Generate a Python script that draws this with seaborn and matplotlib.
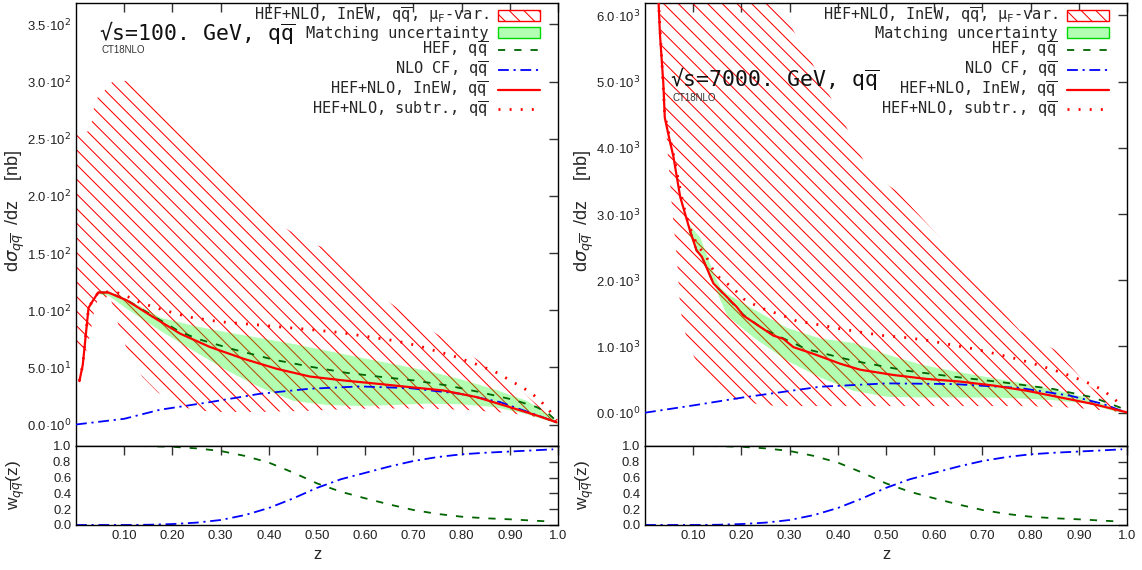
import matplotlib
matplotlib.use("Agg")
import matplotlib.pyplot as plt
import seaborn as sns
from matplotlib.patches import Patch
from matplotlib.lines import Line2D
from matplotlib.font_manager import FontProperties

# ---------------- data: sqrt(s) = 100 GeV ----------------
z_inew_100 = [0.007, 0.014, 0.026, 0.033, 0.046, 0.067, 0.105, 0.16, 0.216, 0.278, 0.347,
              0.416, 0.485, 0.554, 0.624, 0.693, 0.762, 0.831, 0.90, 0.956, 0.997]
inew_100 = [38, 52, 102, 107, 115.5, 115.5, 108.7, 94, 79.5, 67.8, 57.6,
            48.8, 42, 38.6, 35.7, 32.7, 29.8, 24, 15.2, 7.9, 2]

z_hef_100 = [0.046, 0.067, 0.105, 0.16, 0.216, 0.257, 0.326, 0.41, 0.49, 0.56, 0.63,
             0.70, 0.77, 0.838, 0.907, 0.956, 0.98, 0.997]
hef_100 = [115.5, 115.5, 109, 95, 81, 74.3, 65.8, 56.7, 50.3, 45.3, 41.8,
           38.6, 34.2, 28.3, 21.7, 15.2, 9.6, 3]

z_nlo_100 = [0.0, 0.1, 0.174, 0.278, 0.382, 0.485, 0.589, 0.693, 0.797, 0.88, 0.948, 0.997]
nlo_100 = [0, 5, 12.9, 19.6, 26.9, 31.3, 33.3, 31.8, 26.9, 19.6, 9.4, 2]

z_subtr_100 = [0.007, 0.014, 0.026, 0.033, 0.046, 0.067, 0.088, 0.112, 0.133, 0.154, 0.178,
               0.198, 0.223, 0.245, 0.269, 0.292, 0.316, 0.362, 0.41, 0.479, 0.549, 0.619,
               0.665, 0.712, 0.734, 0.779, 0.824, 0.868, 0.889, 0.909, 0.929, 0.949, 0.966,
               0.982, 0.997]
subtr_100 = [38, 52, 102, 107, 115.5, 116, 115, 111, 106.7, 103.8, 100.6,
             98.2, 95.3, 93.2, 91.8, 90.3, 89.2, 87.7, 85.9, 83.3, 80.4, 76,
             73, 68.7, 65.8, 60.5, 53.8, 46.5, 41.5, 36.6, 31.8, 26, 19.6,
             12.3, 3.5]

z_match_100 = [0.05, 0.067, 0.105, 0.174, 0.243, 0.313, 0.382, 0.451, 0.52, 0.589, 0.658,
               0.728, 0.797, 0.866, 0.935, 0.983, 1.0]
match_hi_100 = [116, 117, 110, 94, 86.8, 81, 76, 70.8, 64.9, 59, 53.2,
                47.4, 40, 31.3, 21, 7.9, 1]
match_lo_100 = [114, 113, 101.5, 82.4, 64.9, 47.4, 32.7, 21, 17.5, 16.7, 17.5,
                18.7, 18.1, 15.8, 9.4, 3, 0.5]

z_muf_100 = [0.0, 0.02, 0.03, 0.04, 0.05, 0.07, 0.08, 0.091, 0.112, 0.137, 0.17, 0.222,
             0.26, 0.299, 0.382, 0.485, 0.533, 0.616, 0.707, 0.803, 0.9, 0.963, 1.0]
muf_hi_100 = [254, 256, 257, 285, 287, 298, 301, 301, 300, 293, 278, 256,
              240, 223, 185, 159, 152, 117, 90, 65, 38, 15, 1]
muf_lo_100 = [62, 62, 80, 105, 110, 112, 100, 82, 59, 42, 28, 15,
              12, 11, 11, 12, 13, 14, 14, 13, 10, 6, 0.5]

# ---------------- data: sqrt(s) = 7000 GeV ----------------
z_inew_7000 = [0.025, 0.028, 0.031, 0.038, 0.041, 0.048, 0.059, 0.073, 0.079, 0.093, 0.107,
               0.118, 0.142, 0.19, 0.204, 0.266, 0.287, 0.308, 0.349, 0.405, 0.446, 0.515,
               0.584, 0.654, 0.723, 0.792, 0.861, 0.93, 1.0]
inew_7000 = [6800, 6230, 5720, 4975, 4460, 4220, 3865, 3260, 3110, 2758, 2450,
             2355, 1952, 1600, 1468, 1165, 1115, 990, 890, 740, 650, 570,
             510, 470, 410, 332, 232, 131, 5]

z_hef_7000 = [0.093, 0.107, 0.118, 0.142, 0.204, 0.245, 0.335, 0.432, 0.543, 0.64, 0.743,
              0.847, 0.93, 0.985, 1.0]
hef_7000 = [2758, 2450, 2355, 1952, 1480, 1265, 960, 785, 634, 544, 458,
            358, 231, 80, 10]

z_nlo_7000 = [0.0, 0.1, 0.204, 0.363, 0.501, 0.64, 0.778, 0.882, 0.951, 0.992]
nlo_7000 = [0, 110, 231, 392, 443, 433, 373, 257, 131, 20]

z_subtr_7000 = [0.025, 0.028, 0.041, 0.059, 0.079, 0.093, 0.107, 0.128, 0.138, 0.152, 0.17,
                0.188, 0.205, 0.226, 0.247, 0.269, 0.292, 0.315, 0.337, 0.36, 0.382, 0.405,
                0.451, 0.496, 0.544, 0.591, 0.638, 0.684, 0.73, 0.775, 0.82, 0.865, 0.887,
                0.91, 0.93, 0.951, 0.97, 0.989]
subtr_7000 = [6800, 6230, 4500, 3900, 3150, 2800, 2550, 2345, 2195, 2054, 1953,
              1842, 1717, 1636, 1566, 1510, 1450, 1384, 1359, 1329, 1299, 1268,
              1213, 1163, 1133, 1087, 1022, 962, 886, 806, 710, 604, 544,
              478, 418, 332, 231, 106]

z_match_7000 = [0.09, 0.114, 0.142, 0.156, 0.17, 0.225, 0.294, 0.363, 0.432, 0.501, 0.571,
                0.64, 0.709, 0.778, 0.847, 0.916, 0.972, 1.0]
match_hi_7000 = [2850, 2650, 2100, 1892, 1800, 1566, 1288, 1127, 1061, 886, 735,
                 634, 544, 458, 358, 231, 80, 5]
match_lo_7000 = [2700, 2350, 1952, 1700, 1468, 1140, 790, 538, 337, 247, 237,
                 237, 237, 225, 196, 146, 30, 2]

z_muf_7000 = [0.025, 0.041, 0.048, 0.056, 0.066, 0.073, 0.079, 0.093, 0.12, 0.156, 0.245,
              0.3, 0.335, 0.411, 0.467, 0.522, 0.612, 0.65, 0.72, 0.778, 0.854, 0.916, 1.0]
muf_hi_7000 = [9000, 9000, 9000, 9000, 9000, 9000, 9000, 8800, 8300, 7800, 6700,
               5870, 5440, 4410, 3610, 3352, 2647, 2250, 1700, 1238, 936, 433, 0]
muf_lo_7000 = [7000, 4560, 3850, 3100, 2350, 1590, 1314, 982, 560, 257, 110,
               100, 100, 100, 100, 100, 100, 100, 100, 100, 90, 60, 0]

# ---------------- matching weights (same for both energies) ----------------
z_w = [0.0, 0.05, 0.1, 0.15, 0.2, 0.25, 0.3, 0.35, 0.4, 0.45, 0.5, 0.55, 0.6, 0.65,
       0.7, 0.75, 0.8, 0.85, 0.9, 0.95, 0.99]
w_hef = [1.0, 1.0, 1.0, 0.998, 0.99, 0.97, 0.937, 0.875, 0.79, 0.665, 0.527, 0.42, 0.338,
         0.26, 0.19, 0.14, 0.105, 0.085, 0.072, 0.055, 0.042]
w_nlo = [0.0, 0.0, 0.0, 0.003, 0.012, 0.03, 0.063, 0.125, 0.215, 0.335, 0.47, 0.58, 0.66,
         0.74, 0.81, 0.86, 0.895, 0.915, 0.93, 0.945, 0.958]

# ---------------- ticks and labels ----------------
xticks = [0.1, 0.2, 0.3, 0.4, 0.5, 0.6, 0.7, 0.8, 0.9, 1.0]
xtick_labels = ["0.10", "0.20", "0.30", "0.40", "0.50", "0.60", "0.70", "0.80", "0.90", "1.0"]
yticks_100 = [0, 50, 100, 150, 200, 250, 300, 350]
ytick_labels_100 = ["0.0·10$^{0}$", "5.0·10$^{1}$", "1.0·10$^{2}$", "1.5·10$^{2}$",
                    "2.0·10$^{2}$", "2.5·10$^{2}$", "3.0·10$^{2}$", "3.5·10$^{2}$"]
yticks_7000 = [0, 1000, 2000, 3000, 4000, 5000, 6000]
ytick_labels_7000 = ["0.0·10$^{0}$", "1.0·10$^{3}$", "2.0·10$^{3}$", "3.0·10$^{3}$",
                     "4.0·10$^{3}$", "5.0·10$^{3}$", "6.0·10$^{3}$"]
wticks = [0.0, 0.2, 0.4, 0.6, 0.8, 1.0]
wtick_labels = ["0.0", "0.2", "0.4", "0.6", "0.8", "1.0"]

legend_labels = [
    r"HEF+NLO, InEW, $q\overline{q}$, $\mu_\mathrm{F}$-var.",
    "Matching uncertainty",
    r"HEF, $q\overline{q}$",
    r"NLO CF, $q\overline{q}$",
    r"HEF+NLO, InEW, $q\overline{q}$",
    r"HEF+NLO, subtr., $q\overline{q}$",
]

# ---------------- style ----------------
# the figure is rendered at 88 dpi (hatch spacing follows the dpi);
# S converts sizes given for a 100-dpi canvas into points at this dpi
DPI = 88
S = 100.0 / DPI

sns.set_style("white")
plt.rcParams.update({
    "font.family": ["Liberation Sans", "DejaVu Sans"],
    "mathtext.fontset": "dejavusans",
    "mathtext.rm": "DejaVu Sans Mono",
    "mathtext.it": "DejaVu Sans Mono",
    "mathtext.sf": "DejaVu Sans Mono",
    "mathtext.bf": "DejaVu Sans Mono:bold",
    "hatch.linewidth": 0.75 * S,
    "axes.linewidth": 1.0 * S,
    "axes.edgecolor": "black",
    "xtick.direction": "in",
    "ytick.direction": "in",
    "xtick.color": "#333333",
    "ytick.color": "#333333",
    "xtick.labelcolor": "#222222",
    "ytick.labelcolor": "#222222",
    "xtick.major.pad": 3.5 * S,
    "ytick.major.pad": 3.5 * S,
})

RED = "#ff0000"
DGREEN = "#006400"
BLUE = "#0000ff"
BAND = "#00ff00"
ls_hef = (0, (4.0, 5.0))
ls_nlo = (0, (6.0, 2.6, 1.2, 2.6))
ls_sub = (0, (0.7, 3.3))

FS_TICK = 9.5 * S
mono = FontProperties(family="DejaVu Sans Mono", size=11 * S, math_fontfamily="custom")
mono_big = FontProperties(family="DejaVu Sans Mono", size=15.5 * S, math_fontfamily="custom")

fig = plt.figure(figsize=(1142 / DPI, 570 / DPI), dpi=DPI)

main_bottom, main_h = 0.21754, 0.77772
sub_bottom, sub_h = 0.07895, 0.13860
width = 0.42207


def draw(x0, ylim, yticks, ylabels, title, title_xy, pdf_xy,
         z_muf, muf_lo, muf_hi, z_match, m_lo, m_hi,
         z_hef, hef, z_nlo, nlo, z_inew, inew, z_sub, sub):
    ax = fig.add_axes([x0, main_bottom, width, main_h])
    axw = fig.add_axes([x0, sub_bottom, width, sub_h], sharex=ax)

    # mu_F variation band (hatched) and matching uncertainty band
    ax.fill_between(z_muf, muf_lo, muf_hi, facecolor="none", edgecolor=RED,
                    linewidth=0, hatch="\\\\", zorder=1)
    ax.fill_between(z_match, m_lo, m_hi, facecolor=BAND, alpha=0.3,
                    linewidth=0, zorder=2)

    sns.lineplot(x=z_hef, y=hef, ax=ax, color=DGREEN, linewidth=1.3 * S,
                 linestyle=ls_hef, estimator=None, sort=False, zorder=3)
    sns.lineplot(x=z_nlo, y=nlo, ax=ax, color=BLUE, linewidth=1.3 * S,
                 linestyle=ls_nlo, estimator=None, sort=False, zorder=4)
    sns.lineplot(x=z_inew, y=inew, ax=ax, color=RED, linewidth=1.6 * S,
                 estimator=None, sort=False, zorder=5)
    sns.lineplot(x=z_sub, y=sub, ax=ax, color=RED, linewidth=2.0 * S,
                 linestyle=ls_sub, estimator=None, sort=False, zorder=6)

    ax.set_xlim(0, 1)
    ax.set_ylim(*ylim)
    ax.set_xticks(xticks)
    ax.set_yticks(yticks)
    ax.set_yticklabels(ylabels, fontsize=FS_TICK)
    ax.tick_params(axis="x", labelbottom=False)
    ax.tick_params(which="both", top=True, right=True, length=6.5 * S, width=1.0 * S)
    ax.set_ylabel(r"d$\sigma_{q\overline{q}}$  /dz    [nb]", fontsize=13 * S)
    ax.yaxis.set_label_coords(-0.102, 0.53)

    ax.text(title_xy[0], title_xy[1], title, transform=ax.transAxes,
            fontproperties=mono_big, va="center", ha="left", color="#111111")
    ax.text(pdf_xy[0], pdf_xy[1], "CT18NLO", transform=ax.transAxes,
            fontsize=7 * S, va="center", ha="left", color="#333333")

    handles = [
        Patch(facecolor="white", edgecolor=RED, hatch="\\\\", linewidth=1.0 * S),
        Patch(facecolor=(0.7, 1.0, 0.7), edgecolor=(0.0, 0.85, 0.0), linewidth=1.0 * S),
        Line2D([], [], color=DGREEN, linewidth=1.3 * S, linestyle=ls_hef),
        Line2D([], [], color=BLUE, linewidth=1.3 * S, linestyle=ls_nlo),
        Line2D([], [], color=RED, linewidth=1.6 * S),
        Line2D([], [], color=RED, linewidth=2.0 * S, linestyle=ls_sub),
    ]
    leg = ax.legend(handles, legend_labels, loc="upper right",
                    bbox_to_anchor=(0.97, 1.0), markerfirst=False, frameon=False,
                    prop=mono, handlelength=2.8, handletextpad=0.6,
                    labelspacing=-0.02, borderpad=0.2, borderaxespad=0.0)
    for t in leg.get_texts():
        t.set_ha("right")

    # weight panel
    sns.lineplot(x=z_w, y=w_hef, ax=axw, color=DGREEN, linewidth=1.3 * S,
                 linestyle=ls_hef, estimator=None, sort=False)
    sns.lineplot(x=z_w, y=w_nlo, ax=axw, color=BLUE, linewidth=1.3 * S,
                 linestyle=ls_nlo, estimator=None, sort=False)
    axw.set_xlim(0, 1)
    axw.set_ylim(0, 1)
    axw.set_yticks(wticks)
    axw.set_yticklabels(wtick_labels, fontsize=FS_TICK)
    axw.set_xticks(xticks)
    axw.set_xticklabels(xtick_labels, fontsize=FS_TICK)
    axw.tick_params(which="both", top=True, right=True, length=6.5 * S, width=1.0 * S)
    axw.set_ylabel(r"w$_{q\overline{q}}$(z)", fontsize=12.5 * S)
    axw.yaxis.set_label_coords(-0.102, 0.5)
    axw.set_xlabel("z", fontsize=12 * S, labelpad=4 * S)
    return ax, axw


draw(0.06655, (-18.8, 369), yticks_100, ytick_labels_100,
     r"√s=100. GeV, $q\overline{q}$", (0.048, 0.931), (0.053, 0.893),
     z_muf_100, muf_lo_100, muf_hi_100, z_match_100, match_lo_100, match_hi_100,
     z_hef_100, hef_100, z_nlo_100, nlo_100, z_inew_100, inew_100,
     z_subtr_100, subtr_100)

draw(0.56480, (-503, 6193), yticks_7000, ytick_labels_7000,
     r"√s=7000. GeV, $q\overline{q}$", (0.052, 0.826), (0.058, 0.785),
     z_muf_7000, muf_lo_7000, muf_hi_7000, z_match_7000, match_lo_7000, match_hi_7000,
     z_hef_7000, hef_7000, z_nlo_7000, nlo_7000, z_inew_7000, inew_7000,
     z_subtr_7000, subtr_7000)

fig.savefig("out.png", dpi=DPI)
